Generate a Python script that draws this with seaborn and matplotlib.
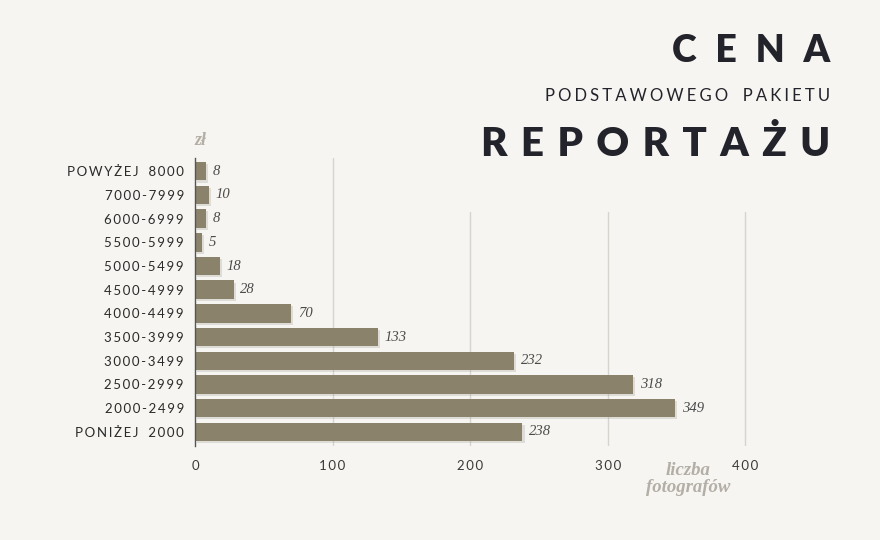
# Cena podstawowego pakietu reportażu - wykres słupkowy
import numpy as np
import pandas as pd
import matplotlib
matplotlib.use('Agg')
import matplotlib.pyplot as plt
import matplotlib.patheffects as pe
import seaborn as sns

# dane
price_ranges = ['POWYŻEJ 8000', '7000-7999', '6000-6999', '5500-5999', '5000-5499',
                '4500-4999', '4000-4499', '3500-3999', '3000-3499', '2500-2999',
                '2000-2499', 'PONIŻEJ 2000']
photographers = [8, 10, 8, 5, 18, 28, 70, 133, 232, 318, 349, 238]
x_ticks = [0, 100, 200, 300, 400]

BG = '#f6f5f1'
BAR = '#8a826b'
DARK = '#23232b'
LIGHT = '#b3aea6'


def spaced(s, sp='\u2009'):
    # rozstrzelenie liter (letter-spacing)
    return sp.join(s.replace(' ', '\u2002'))


sns.set_theme(style='white')
plt.rcParams['font.family'] = ['Lato', 'DejaVu Sans']

df = pd.DataFrame({'range': price_ranges, 'count': photographers})

fig = plt.figure(figsize=(8.8, 5.4), dpi=100, facecolor=BG)
ax = fig.add_axes([0.2216, 0.174, 0.688, 0.533])
ax.set_facecolor(BG)

sns.barplot(data=df, y='range', x='count', order=price_ranges, color=BAR,
            saturation=1, width=0.78, ax=ax, zorder=3, linewidth=0)

for bar in ax.patches:
    bar.set_path_effects([pe.SimplePatchShadow(offset=(1.5, -1.5), shadow_rgbFace='#9a9488', alpha=0.25),
                          pe.Normal()])

ax.set_xlim(0, 440)
ax.set_ylim(11.6, -0.55)

# siatka pionowa (krótsza pod tytułem)
for t in x_ticks[1:]:
    top = 1.0 if t == 100 else 0.8125
    ax.axvline(t, ymin=0, ymax=top, color='#d6d4cf', lw=1, zorder=1)

for s in ['top', 'right', 'bottom']:
    ax.spines[s].set_visible(False)
ax.spines['left'].set_color('#555555')
ax.spines['left'].set_linewidth(1)
ax.spines['left'].set_zorder(4)

ax.set_xticks(x_ticks)
ax.set_xticklabels([spaced(str(t), '\u2009') for t in x_ticks], fontsize=9.5, color='#3a3a3a')
ax.set_yticks(range(len(price_ranges)))
ax.set_yticklabels([spaced(r) for r in price_ranges], fontsize=9.5, color='#2a2a2a')
ax.tick_params(axis='both', length=0, pad=8)
ax.tick_params(axis='x', pad=10)
ax.set_xlabel('')
ax.set_ylabel('')

# etykiety wartości
ax.bar_label(ax.containers[0], labels=[str(v) for v in photographers], padding=5,
             fontsize=10.5, fontstyle='italic', family='Liberation Serif', color='#4a4a4a')

# opisy osi
fig.text(0.228, 0.74, 'zł', fontsize=13, fontstyle='italic', fontweight='bold',
         family='Liberation Serif', color=LIGHT, ha='center', va='center')
fig.text(0.782, 0.113, 'liczba\nfotografów', fontsize=13.5, fontstyle='italic', fontweight='bold',
         family='Liberation Serif', color=LIGHT, ha='center', va='center', linespacing=0.95)

# tytuł
fig.text(0.943, 0.905, spaced('CENA', '\u2002'), fontsize=27, fontweight='heavy',
         color=DARK, ha='right', va='center')
fig.text(0.943, 0.822, spaced('PODSTAWOWEGO PAKIETU', '\u2009\u200a'), fontsize=12,
         color=DARK, ha='right', va='center')
fig.text(0.943, 0.733, spaced('REPORTAŻU', '\u2004'), fontsize=29, fontweight='heavy',
         color=DARK, ha='right', va='center')

plt.savefig('out.png', dpi=100, facecolor=BG)
